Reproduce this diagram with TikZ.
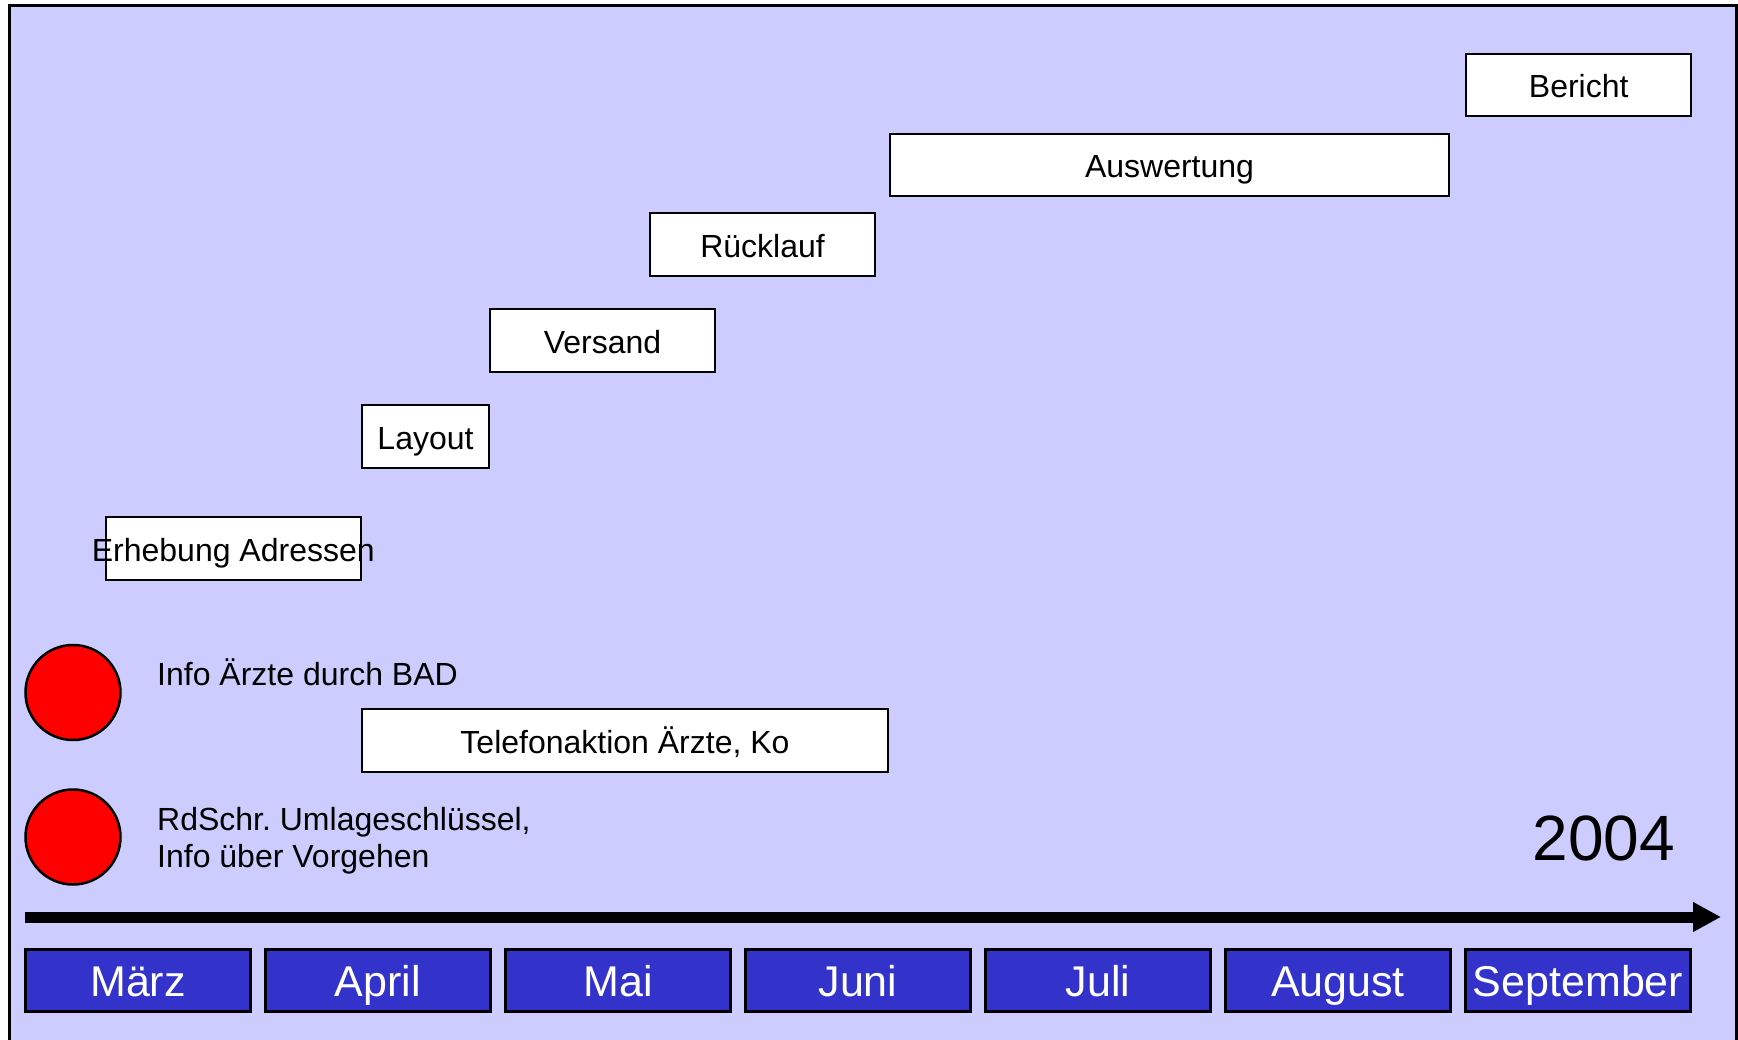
\documentclass[tikz,border=0pt]{standalone}
\usepackage{fontspec}
\setmainfont{Liberation Sans}
\usetikzlibrary{arrows.meta}
\pgfdeclarelayer{edgelayer}
\pgfdeclarelayer{nodelayer}
\pgfsetlayers{edgelayer,nodelayer,main}
\definecolor{lavender}{RGB}{204,204,255}
\definecolor{mblue}{RGB}{51,51,204}
\tikzstyle{task}=[rectangle, fill=white, draw=black, line width=2pt, minimum height=62.5pt, inner sep=0pt, font=\fontsize{32}{37}\selectfont, text height=30pt, text depth=4pt]
\tikzstyle{month}=[rectangle, fill=mblue, draw=black, line width=3pt, minimum width=225pt, minimum height=62.5pt, inner sep=0pt, text=white, font=\fontsize{43}{50}\selectfont, text height=38pt, text depth=6pt]
\tikzstyle{event}=[circle, fill=red, draw=black, line width=2.5pt, minimum size=95pt, inner sep=0pt]
\tikzstyle{note}=[inner sep=0pt, align=left, font=\fontsize{32}{37}\selectfont]
\tikzstyle{timeline}=[line width=11pt, -{Triangle[length=28pt, width=28pt]}]
\frenchspacing

\begin{document}
\begin{tikzpicture}[x=1pt, y=-1pt]
            \useasboundingbox (0,0) rectangle (1738,1040);
            \begin{pgfonlayer}{edgelayer}
                \fill [lavender] (9.5,5.3) rectangle (1736,1040);
                \draw [line width=3pt] (9.5,1040) |- (1736,5.3) -- (1736,1040);
            \end{pgfonlayer}
            \begin{pgfonlayer}{nodelayer}
                \node [style=task, minimum width=255pt] (erhebung) at (233.3, 548.5) {\makebox[0pt]{Erhebung Adressen}};
                \node [style=task, minimum width=127pt] (layout) at (425.5, 436.5) {Layout};
                \node [style=task, minimum width=225pt] (versand) at (602.5, 340.5) {Versand};
                \node [style=task, minimum width=225pt] (ruecklauf) at (762.5, 244.7) {Rücklauf};
                \node [style=task, minimum width=559pt] (auswertung) at (1169.5, 165) {Auswertung};
                \node [style=task, minimum width=225pt] (bericht) at (1578.7, 85) {Bericht};
                \node [style=task, minimum width=526pt] (telefon) at (625, 740.5) {Telefonaktion Ärzte, Ko};
                \node [style=event] (dot1) at (73, 692.5) {};
                \node [style=event] (dot2) at (73, 837) {};
                \node [style=note, anchor=base west] (info) at (157, 685) {Info Ärzte durch BAD};
                \node [style=note, anchor=base west] (rdschr) at (157, 867.3) {RdSchr. Umlageschlüssel,\\Info über Vorgehen};
                \node [inner sep=0pt, anchor=base, font=\fontsize{64}{70}\selectfont] (year) at (1604, 860) {2004};
                \foreach \m [count=\i from 0] in {März, April, Mai, Juni, Juli, August, September}
                    \node [style=month] (m\i) at (138+240*\i, 980.5) {\m};
            \end{pgfonlayer}
            \coordinate (t0) at (25, 917);
            \coordinate (t1) at (1721, 917);
            \draw [style=timeline] (t0) -- (t1);
        \end{tikzpicture}
\end{document}
